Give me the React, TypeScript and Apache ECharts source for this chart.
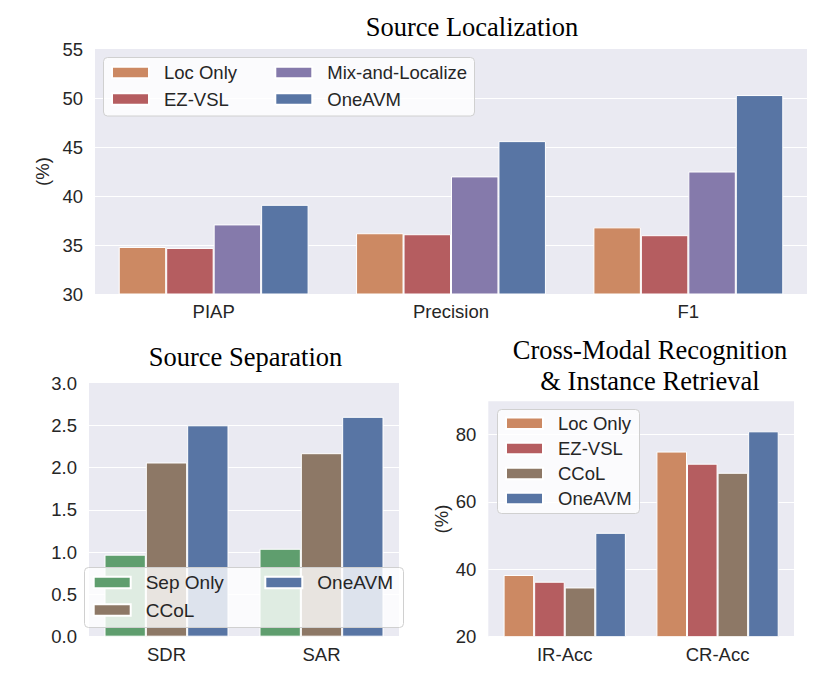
import React, { useEffect, useRef } from "react";
import * as echarts from "echarts";

// Source Localization (top)
const locCategories = ["PIAP", "Precision", "F1"];
const locOnly = [34.8, 36.2, 36.8];
const ezVsl = [34.7, 36.1, 36.0];
const mixAndLocalize = [37.1, 42.0, 42.5];
const oneAvmLoc = [39.1, 45.6, 50.3];
const locTicks = { min: 30, max: 55, interval: 5 };

// Source Separation (bottom left)
const sepCategories = ["SDR", "SAR"];
const sepOnly = [0.97, 1.04];
const ccolSep = [2.06, 2.17];
const oneAvmSep = [2.5, 2.6];
const sepTicks = { min: 0, max: 3, interval: 0.5 };

// Cross-Modal Recognition & Instance Retrieval (bottom right)
const cmCategories = ["IR-Acc", "CR-Acc"];
const locOnlyCm = [38.3, 74.9];
const ezVslCm = [36.3, 71.3];
const ccolCm = [34.6, 68.6];
const oneAvmCm = [50.8, 80.9];
const cmTicks = { min: 20, max: 89.8, interval: 20 };

const COLORS: Record<string, string> = {
  "Loc Only": "#CC8963",
  "EZ-VSL": "#B55D60",
  "Mix-and-Localize": "#857AAB",
  OneAVM: "#5875A4",
  "Sep Only": "#5F9E6E",
  CCoL: "#8D7866",
};

const SANS = '"Liberation Sans", Arial, sans-serif';
const SERIF = '"Liberation Serif", "Times New Roman", serif';
const TXT = "#262626";

function bar(name: string, data: number[], idx: number) {
  return {
    type: "bar",
    name,
    data,
    xAxisIndex: idx,
    yAxisIndex: idx,
    barGap: "0%",
    barCategoryGap: "20%",
    itemStyle: { color: COLORS[name], borderColor: "#ffffff", borderWidth: 1 },
    emphasis: { disabled: true },
  };
}

function xAx(idx: number, data: string[]) {
  return {
    type: "category",
    gridIndex: idx,
    data,
    axisLine: { show: false },
    axisTick: { show: false },
    splitLine: { show: false },
    axisLabel: { color: TXT, fontSize: 18.5, fontFamily: SANS, margin: 8 },
  };
}

function yAx(idx: number, t: { min: number; max: number; interval: number }, name: string, nameGap: number, dec: number) {
  return {
    type: "value",
    gridIndex: idx,
    min: t.min,
    max: t.max,
    interval: t.interval,
    name,
    nameLocation: "middle",
    nameGap,
    nameTextStyle: { color: TXT, fontSize: 18.5, fontFamily: SANS },
    axisLine: { show: false },
    axisTick: { show: false },
    splitLine: { show: true, showMaxLine: false, lineStyle: { color: "#ffffff", width: 1 } },
    axisLabel: {
      color: TXT,
      fontSize: 18.5,
      fontFamily: SANS,
      margin: 12,
      showMaxLabel: t.max % t.interval === 0,
      formatter: (v: number) => v.toFixed(dec),
    },
  };
}

function legend(left: number, top: number, data: string[], gap: number, fontSize: number) {
  return {
    left,
    top,
    orient: "vertical",
    padding: 0,
    itemGap: gap,
    itemWidth: 37,
    itemHeight: 11.5,
    icon: "rect",
    z: 6,
    selectedMode: false,
    data,
    textStyle: { color: TXT, fontSize, fontFamily: SANS, padding: [0, 0, 0, 10] },
  };
}

function frame(x: number, y: number, w: number, h: number) {
  return {
    type: "rect",
    z: 5,
    shape: { x, y, width: w, height: h, r: 4 },
    style: { fill: "rgba(255,255,255,0.8)", stroke: "#d0d0d0", lineWidth: 1 },
  };
}

function title(text: string, x: number, y: number) {
  return {
    type: "text",
    x,
    y,
    z: 6,
    style: {
      text,
      fill: "#000000",
      font: `26.5px ${SERIF}`,
      align: "center",
      verticalAlign: "middle",
    },
  };
}

export default function App() {
  const ref = useRef<HTMLDivElement>(null);
  useEffect(() => {
    if (!ref.current) return;
    const chart = echarts.init(ref.current, null, { renderer: "svg" });
    const gridStyle = { show: true, backgroundColor: "#EAEAF2", borderWidth: 0 };
    chart.setOption({
      animation: false,
      grid: [
        { ...gridStyle, left: 95, top: 49, width: 712, height: 245 },
        { ...gridStyle, left: 89, top: 383, width: 310, height: 253.7 },
        { ...gridStyle, left: 488.3, top: 401.3, width: 305.7, height: 235.4 },
      ],
      xAxis: [xAx(0, locCategories), xAx(1, sepCategories), xAx(2, cmCategories)],
      yAxis: [
        yAx(0, locTicks, "(%)", 40.5, 0),
        yAx(1, sepTicks, "", 0, 1),
        yAx(2, cmTicks, "(%)", 37.5, 0),
      ],
      legend: [
        legend(111, 63, ["Loc Only", "EZ-VSL"], 7.5, 18.5),
        legend(274.3, 63, ["Mix-and-Localize", "OneAVM"], 7.5, 18.5),
        legend(92.7, 573, ["Sep Only", "CCoL"], 8.5, 19),
        legend(264.3, 573, ["OneAVM"], 8.5, 19),
        legend(505, 413.8, ["Loc Only", "EZ-VSL", "CCoL", "OneAVM"], 6.1, 18.5),
      ],
      graphic: [
        frame(103.5, 57.5, 371, 58.5),
        frame(84.5, 567.5, 319, 60),
        frame(497.5, 409.5, 142, 104),
        title("Source Localization", 472, 27),
        title("Source Separation", 245.5, 357),
        title("Cross-Modal Recognition", 650, 349.5),
        title("& Instance Retrieval", 650, 381),
      ],
      series: [
        bar("Loc Only", locOnly, 0),
        bar("EZ-VSL", ezVsl, 0),
        bar("Mix-and-Localize", mixAndLocalize, 0),
        bar("OneAVM", oneAvmLoc, 0),
        bar("Sep Only", sepOnly, 1),
        bar("CCoL", ccolSep, 1),
        bar("OneAVM", oneAvmSep, 1),
        bar("Loc Only", locOnlyCm, 2),
        bar("EZ-VSL", ezVslCm, 2),
        bar("CCoL", ccolCm, 2),
        bar("OneAVM", oneAvmCm, 2),
      ],
    });
    return () => chart.dispose();
  }, []);
  return (
    <div
      ref={ref}
      style={{ position: "fixed", left: 0, top: 0, width: 830, height: 690, background: "#ffffff" }}
    />
  );
}
